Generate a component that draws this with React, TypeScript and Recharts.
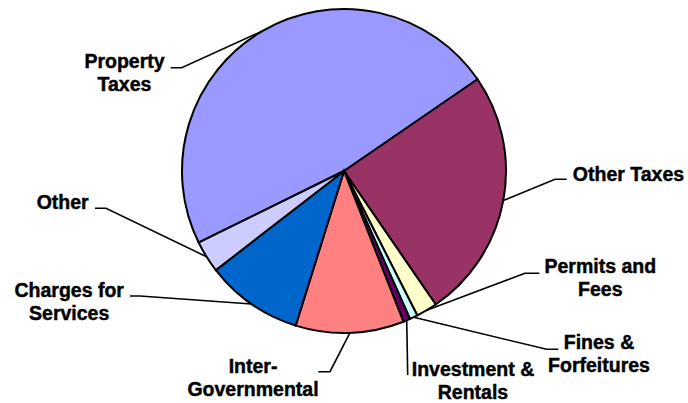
import React from 'react';
import { PieChart, Pie, Cell } from 'recharts';

// revenue sources, share of total (%), clockwise from the left edge of Property Taxes
const categories = [
  'Property Taxes',
  'Other Taxes',
  'Permits and Fees',
  'Fines & Forfeitures',
  'Investment & Rentals',
  'Inter-Governmental',
  'Charges for Services',
  'Other',
];
const shares = [47.7, 25.0, 2.1, 0.8, 0.7, 10.8, 9.7, 3.2];
const labelLines = [
  ['Property', 'Taxes'],
  ['Other Taxes'],
  ['Permits and', 'Fees'],
  ['Fines &', 'Forfeitures'],
  ['Investment &', 'Rentals'],
  ['Inter-', 'Governmental'],
  ['Charges for', 'Services'],
  ['Other'],
];
const colors = ['#9999FF', '#993366', '#FFFFCC', '#CCFFFF', '#660066', '#FF8080', '#0066CC', '#CCCCFF'];

// label placement: text center x / first baseline, and the leader elbow (bend -> end)
const LABEL_LAYOUT: Record<string, { tx: number; ty: number; bend: [number, number]; end?: [number, number] }> = {
  'Property Taxes': { tx: 124.5, ty: 67.7, bend: [181.7, 67.7], end: [170.7, 67.7] },
  'Other Taxes': { tx: 628.5, ty: 180.7, bend: [555, 179.3], end: [566.7, 179.3] },
  'Permits and Fees': { tx: 600.3, ty: 273.3, bend: [525, 273.3], end: [539.3, 273.3] },
  'Fines & Forfeitures': { tx: 599, ty: 349.3, bend: [546.7, 349.3], end: [558.3, 349.3] },
  'Investment & Rentals': { tx: 473, ty: 376, bend: [407.7, 375] },
  'Inter-Governmental': { tx: 253, ty: 372.7, bend: [330, 371.7], end: [318.3, 371.7] },
  'Charges for Services': { tx: 69.2, ty: 296.7, bend: [140, 296], end: [130, 296] },
  'Other': { tx: 62.7, ty: 209, bend: [106, 208.3], end: [95, 208.3] },
};

const data = categories.map((name, i) => ({ name, value: shares[i], lines: labelLines[i] }));

const RAD = Math.PI / 180;

const SliceLabel = (props: any) => {
  const { cx, cy, midAngle, outerRadius, payload, index } = props;
  const name = payload?.name ?? categories[index];
  const layout = LABEL_LAYOUT[name];
  if (!layout) return null;
  const ex = cx + outerRadius * Math.cos(midAngle * RAD);
  const ey = cy - outerRadius * Math.sin(midAngle * RAD);
  const pts = [[ex, ey], layout.bend, ...(layout.end ? [layout.end] : [])];
  const lines: string[] = payload?.lines ?? labelLines[index];
  return (
    <g>
      <polyline points={pts.map((p) => p.join(',')).join(' ')} fill="none" stroke="#000" strokeWidth={1.6} />
      <text
        x={layout.tx}
        y={layout.ty}
        textAnchor="middle"
        fill="#000"
        stroke="#000"
        strokeWidth={0.45}
        fontFamily="'Liberation Sans', Arial, sans-serif"
        fontWeight="bold"
        fontSize={19.5}
      >
        {lines.map((ln, i) => (
          <tspan key={ln} x={layout.tx} dy={i === 0 ? 0 : 22.8}>
            {ln}
          </tspan>
        ))}
      </text>
    </g>
  );
};

export default function App() {
  return (
    <div style={{ position: 'absolute', left: 0, top: 0, width: 688, height: 403, background: '#fff' }}>
      <PieChart width={688} height={403} margin={{ top: 0, right: 0, bottom: 0, left: 0 }}>
        <Pie
          data={data}
          dataKey="value"
          nameKey="name"
          cx={344}
          cy={171}
          outerRadius={162}
          startAngle={206.2}
          endAngle={-153.8}
          stroke="#000"
          strokeWidth={2}
          label={SliceLabel}
          labelLine={false}
          isAnimationActive={false}
        >
          {data.map((d, i) => (
            <Cell key={d.name} fill={colors[i]} />
          ))}
        </Pie>
      </PieChart>
    </div>
  );
}
